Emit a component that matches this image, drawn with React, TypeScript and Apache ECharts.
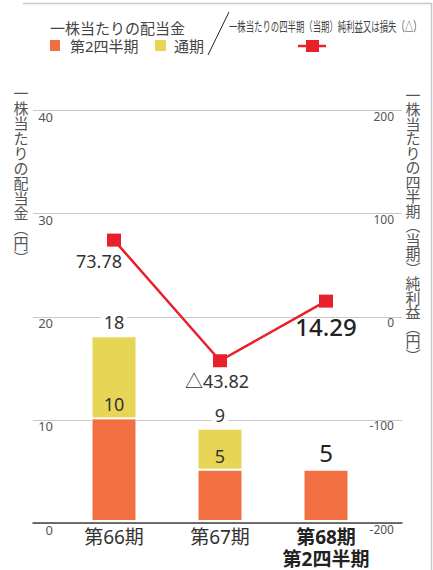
import React, { useEffect, useRef } from "react";
import * as echarts from "echarts";

const categories = ["第66期", "第67期", "第68期\n第2四半期"];
const q2Dividend = [10, 5, 5];
const annualDividend: (number | null)[] = [18, 9, null];
const quarterlyEps = [73.78, -43.82, 14.29];
const leftTicks = { min: 0, max: 40, interval: 10 };
const rightTicks = { min: -200, max: 200, interval: 100 };

const FONT = '"Noto Sans", "Noto Sans CJK JP", sans-serif';
const ORANGE = "#F26F42";
const YELLOW = "#E7D556";
const RED = "#E8202A";

const leftTitle = ["一", "株", "当", "た", "り", "の", "配", "当", "金", "︵", "円", "︶"];
const rightTitle = ["一", "株", "当", "た", "り", "の", "四", "半", "期", "︵", "当", "期", "︶", "純", "利", "益", "︵", "円", "︶"];

function txt(text: string, x: number, y: number, fontSize: number, fill: string, extra: any = {}, styleExtra: any = {}) {
  return {
    type: "text",
    x,
    y,
    ...extra,
    style: {
      text,
      fontSize,
      fontFamily: FONT,
      fill,
      textAlign: "left",
      textVerticalAlign: "middle",
      align: "left",
      verticalAlign: "middle",
      ...styleExtra,
    },
  };
}

export default function App() {
  const ref = useRef<HTMLDivElement>(null);
  useEffect(() => {
    document.body.style.margin = "0";
    const chart = echarts.init(ref.current!, null, { renderer: "svg" });
    const gridTop = 110.6;
    const gridBottom = 570 - 523;
    const option: any = {
      animation: false,
      textStyle: { fontFamily: FONT },
      grid: [
        { left: 33, right: 433 - 402, top: gridTop, bottom: gridBottom },
        { left: 61, right: 433 - 379, top: gridTop, bottom: gridBottom },
      ],
      xAxis: [
        {
          gridIndex: 0,
          type: "value",
          min: 0,
          max: 1,
          axisLabel: { show: false },
          axisTick: { show: false },
          splitLine: { show: false },
          axisLine: { show: true, onZero: false, lineStyle: { color: "#444", width: 1.5 } },
        },
        {
          gridIndex: 1,
          type: "category",
          data: categories,
          axisLine: { show: false },
          axisTick: { show: false },
          axisLabel: {
            interval: 0,
            hideOverlap: false,
            margin: 5,
            fontSize: 19,
            lineHeight: 22,
            color: "#333",
            formatter: (v: string, i: number) =>
              i === 2 ? v.split("\n").map((s) => "{b|" + s + "}").join("\n") : v,
            rich: { b: { fontSize: 19, fontWeight: "bold", lineHeight: 22, color: "#222" } },
          },
        },
      ],
      yAxis: [
        {
          gridIndex: 0,
          type: "value",
          position: "left",
          ...leftTicks,
          axisLine: { show: false },
          axisTick: { show: false },
          splitLine: { show: true, lineStyle: { color: "#c8c8c8", width: 1 } },
          axisLabel: { inside: true, align: "right", margin: 20, verticalAlign: "top", fontSize: 13, color: "#555" },
        },
        {
          gridIndex: 0,
          type: "value",
          position: "right",
          ...rightTicks,
          axisLine: { show: false },
          axisTick: { show: false },
          splitLine: { show: false },
          axisLabel: { inside: true, margin: 8, verticalAlign: "top", fontSize: 12, color: "#555" },
        },
        { gridIndex: 1, type: "value", ...leftTicks, show: false },
        { gridIndex: 1, type: "value", ...rightTicks, show: false },
      ],
      series: [
        {
          name: "第2四半期",
          type: "bar",
          xAxisIndex: 1,
          yAxisIndex: 2,
          stack: "div",
          barWidth: 45,
          itemStyle: { color: ORANGE, borderColor: "#fff", borderWidth: 1 },
          label: { show: true, position: "top", distance: 5, fontSize: 18, color: "#333" },
          data: q2Dividend.map((v, i) =>
            annualDividend[i] == null ? { value: v, label: { fontSize: 24, color: "#222" } } : v
          ),
          z: 2,
        },
        {
          name: "通期",
          type: "bar",
          xAxisIndex: 1,
          yAxisIndex: 2,
          stack: "div",
          barWidth: 45,
          itemStyle: { color: YELLOW, borderColor: "#fff", borderWidth: 1 },
          label: {
            show: true,
            position: "top",
            distance: 5,
            fontSize: 18,
            color: "#333",
            backgroundColor: "#fff",
            padding: [0, 3],
            formatter: (p: any) => String(annualDividend[p.dataIndex]),
          },
          data: annualDividend.map((v, i) => (v == null ? "-" : v - q2Dividend[i])),
          z: 2,
        },
        {
          name: "純利益",
          type: "line",
          xAxisIndex: 1,
          yAxisIndex: 3,
          symbol: "rect",
          symbolSize: [14, 13],
          lineStyle: { color: RED, width: 2.5 },
          itemStyle: { color: RED },
          z: 5,
          label: {
            show: true,
            position: "bottom",
            distance: 5,
            fontSize: 18,
            color: "#333",
            formatter: (p: any) => {
              const v = p.value as number;
              return v < 0 ? "△" + Math.abs(v).toFixed(2) : v.toFixed(2);
            },
          },
          data: quarterlyEps.map((v, i) => {
            if (i === 0) return { value: v, label: { offset: [-15, 0] } };
            if (i === 1) return { value: v, label: { offset: [-3, 0] } };
            return { value: v, label: { fontSize: 24, color: "#222", fontWeight: 500, offset: [0, 2] } };
          }),
        },
      ],
      graphic: [
        {
          type: "polyline",
          shape: { points: [[23, 3.5], [431.5, 3.5], [431.5, 570]] },
          style: { stroke: "#c8c8c8", lineWidth: 1.5, fill: null },
        },
        txt("一株当たりの配当金", 50, 28, 15, "#444"),
        { type: "rect", shape: { x: 50, y: 40, width: 10, height: 11 }, style: { fill: ORANGE } },
        txt("第2四半期", 70, 46, 15, "#444"),
        { type: "rect", shape: { x: 155, y: 40, width: 11, height: 11 }, style: { fill: YELLOW } },
        txt("通期", 174, 46, 15, "#444"),
        {
          type: "line",
          shape: { x1: 229, y1: 12, x2: 208, y2: 55 },
          style: { stroke: "#222", lineWidth: 1 },
        },
        txt("一株当たりの四半期（当期）純利益又は損失（△）", 229, 26, 13, "#444", { scaleX: 0.645 }),
        {
          type: "line",
          shape: { x1: 298, y1: 46, x2: 326, y2: 46 },
          style: { stroke: RED, lineWidth: 2.5 },
        },
        { type: "rect", shape: { x: 306, y: 40, width: 13, height: 12 }, style: { fill: RED } },
        txt(leftTitle.join("\n"), 21, 85.5, 15, "#555", {}, {
          textAlign: "center",
          align: "center",
          textVerticalAlign: "top",
          verticalAlign: "top",
          lineHeight: 15,
        }),
        txt(rightTitle.join("\n"), 413, 87.5, 15, "#555", {}, {
          textAlign: "center",
          align: "center",
          textVerticalAlign: "top",
          verticalAlign: "top",
          lineHeight: 14.5,
        }),
      ],
    };
    chart.setOption(option);
    return () => chart.dispose();
  }, []);
  return <div ref={ref} style={{ width: 433, height: 570 }} />;
}
